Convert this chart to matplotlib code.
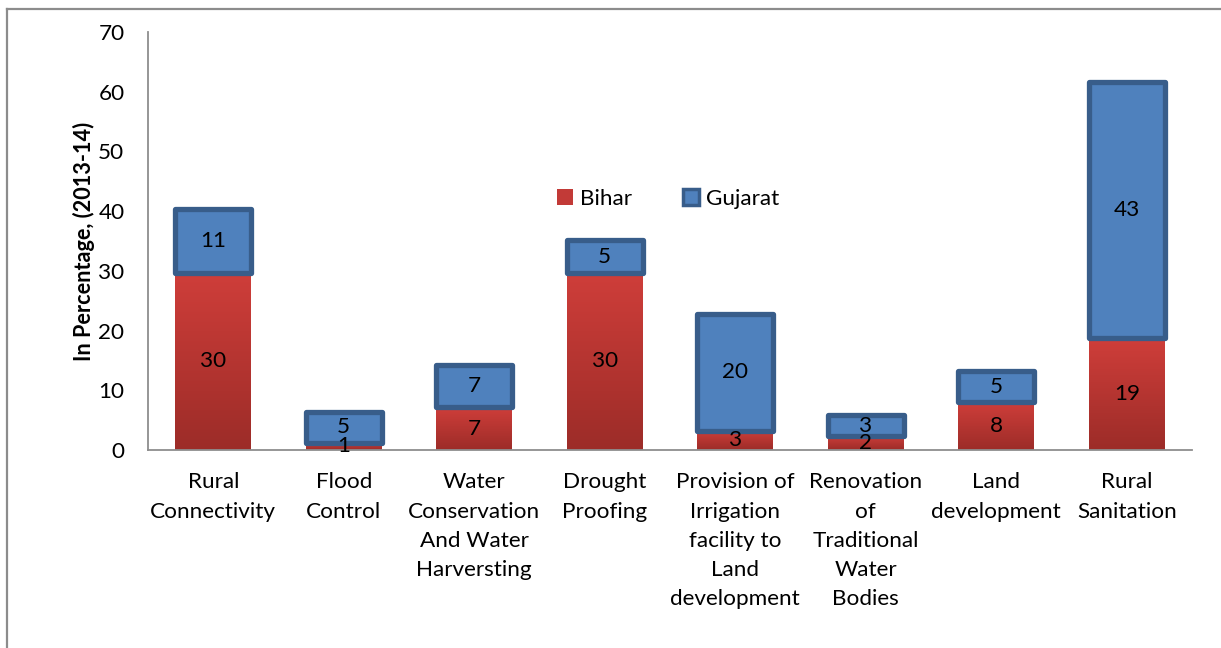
import matplotlib
matplotlib.use("Agg")
import matplotlib.pyplot as plt
import numpy as np
from matplotlib.lines import Line2D
from matplotlib.colors import LinearSegmentedColormap
from matplotlib.patches import Patch

categories = ["Rural\nConnectivity", "Flood\nControl", "Water\nConservation\nAnd Water\nHarversting",
              "Drought\nProofing", "Provision of\nIrrigation\nfacility to\nLand\ndevelopment",
              "Renovation\nof\nTraditional\nWater\nBodies", "Land\ndevelopment", "Rural\nSanitation"]
bihar = [29.7, 1.2, 7.2, 29.7, 3.2, 2.4, 8.0, 18.7]
gujarat = [10.6, 5.2, 7.0, 5.4, 19.6, 3.4, 5.2, 42.9]
series_names = ["Bihar", "Gujarat"]
yticks = [0, 10, 20, 30, 40, 50, 60, 70]

FONT = "Lato"
plt.rcParams['font.family'] = [FONT, 'DejaVu Sans']
FS = 16.2

W, H = 1221, 648
fig = plt.figure(figsize=(W / 100, H / 100), dpi=100)
ax = fig.add_axes([148 / W, 1 - 450 / H, (1192 - 148) / W, (450 - 32) / H])

x = np.arange(len(categories))
bw = 0.58
red_cmap = LinearSegmentedColormap.from_list("red", ["#9C2C28", "#CF3E3A"])

rb = ax.bar(x, bihar, width=bw, color="#C0393B", edgecolor="none", zorder=2)
grad = np.linspace(0, 1, 256).reshape(-1, 1)
for p in rb:
    x0, y0, w, h = p.get_x(), p.get_y(), p.get_width(), p.get_height()
    im = ax.imshow(grad, cmap=red_cmap, origin="lower", aspect="auto",
                   extent=[x0, x0 + w, y0, y0 + h], zorder=2.5)
    im.set_clip_path(p)

gb = ax.bar(x, gujarat, width=bw, bottom=bihar, color="#4F81BD", edgecolor="#385D8A",
            linewidth=3.8, joinstyle="round", zorder=3)

for i in range(len(x)):
    ax.text(x[i], bihar[i] / 2, f"{bihar[i]:.0f}", ha="center", va="center",
            fontsize=FS, color="black", zorder=5)
    ax.text(x[i], bihar[i] + gujarat[i] / 2, f"{gujarat[i]:.0f}", ha="center", va="center",
            fontsize=FS, color="black", zorder=5)

ax.set_xlim(-0.5, len(categories) - 0.5)
ax.set_ylim(0, 70)
ax.set_yticks(yticks)
ax.set_yticklabels([str(v) for v in yticks], fontsize=FS)
ax.set_xticks(x)
ax.set_xticklabels(categories, fontsize=FS, linespacing=1.58, va="top")
ax.tick_params(axis="both", length=0)
ax.tick_params(axis="y", pad=17)
ax.tick_params(axis="x", pad=16)
for s in ["top", "right"]:
    ax.spines[s].set_visible(False)
for s in ["left", "bottom"]:
    ax.spines[s].set_color("#8E8E8E")
    ax.spines[s].set_linewidth(1.3)

ax.set_ylabel("In Percentage, (2013-14)", fontsize=15.6, fontweight="bold", labelpad=2)

handles = [Patch(facecolor="#C23A37", edgecolor="none"),
           Patch(facecolor="#4F81BD", edgecolor="#385D8A", linewidth=2.5)]
leg = ax.legend(handles, series_names, loc="center",
                bbox_to_anchor=((668 - 148) / (1192 - 148), (450 - 199) / (450 - 32)),
                ncol=2, frameon=False, fontsize=FS, handlelength=0.7, handleheight=0.7,
                handletextpad=0.3, columnspacing=2.3)

fig.add_artist(Line2D([7 / W, 7 / W], [0, 1 - 9 / H], transform=fig.transFigure, color="#8C8C8C", linewidth=1.6))
fig.add_artist(Line2D([7 / W, 1], [1 - 9 / H, 1 - 9 / H], transform=fig.transFigure, color="#8C8C8C", linewidth=1.6))

fig.savefig("out.png", dpi=100)
